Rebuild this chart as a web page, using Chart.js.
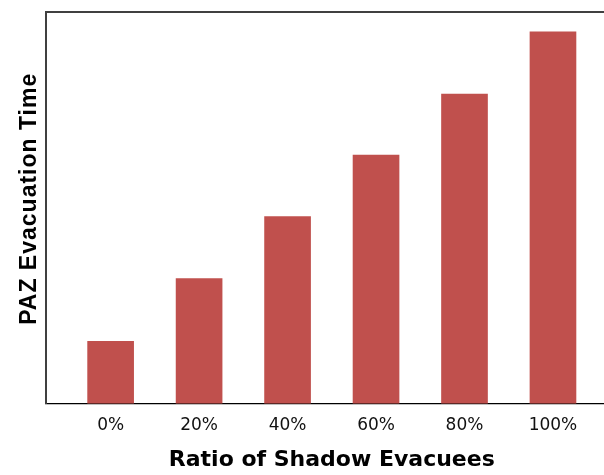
<!DOCTYPE html>
<html>
<head>
<meta charset="utf-8">
<script src="https://cdn.jsdelivr.net/npm/chart.js@4"></script>
<style>
  html, body { margin: 0; padding: 0; background: #fff; overflow: hidden; }
  #wrap { width: 640px; height: 475px; }
</style>
</head>
<body>
<div id="wrap"><canvas id="c" width="640" height="475"></canvas></div>
<script>
// Shadow-evacuee ratio categories and the resulting PAZ evacuation time
const categories = ['0%', '20%', '40%', '60%', '80%', '100%'];
const evacuationTime = [1.0, 2.01, 3.01, 4.0, 4.98, 5.98];
const xTitle = 'Ratio of Shadow Evacuees';
const yTitle = 'PAZ Evacuation Time';

const points = categories.map((c, i) => ({ x: i, y: evacuationTime[i] }));

// Give the vertical axis title a little tracking and lift it slightly
const yTitleStyle = {
  id: 'yTitleStyle',
  afterLayout(chart) {
    const s = chart.scales.y;
    if (s._styledTitle) return;
    const orig = s.drawTitle.bind(s);
    s.drawTitle = function () {
      const ctx = chart.ctx;
      ctx.save();
      ctx.letterSpacing = '1px';
      ctx.translate(0, -9);
      orig();
      ctx.restore();
    };
    s._styledTitle = true;
  }
};

new Chart(document.getElementById('c'), {
  type: 'bar',
  data: {
    datasets: [{
      data: points,
      backgroundColor: '#C0504D',
      borderWidth: 0,
      barThickness: 46
    }]
  },
  plugins: [yTitleStyle],
  options: {
    responsive: false,
    animation: false,
    layout: { padding: { left: 0, top: 12, right: 22, bottom: 4 } },
    plugins: { legend: { display: false }, tooltip: { enabled: false } },
    scales: {
      x: {
        type: 'linear',
        offset: false,
        min: -0.735,
        max: 5.735,
        grid: { display: false, drawTicks: false },
        border: { display: true, color: '#000', width: 1.2 },
        afterBuildTicks: (axis) => { axis.ticks = categories.map((c, i) => ({ value: i })); },
        ticks: {
          autoSkip: false,
          maxRotation: 0,
          padding: 12,
          color: '#111',
          font: { family: 'DejaVu Sans', size: 17 },
          callback: (v) => categories[v]
        },
        title: {
          display: true,
          text: xTitle,
          color: '#000',
          padding: { top: 1, bottom: 0 },
          font: { family: 'DejaVu Sans', size: 22, weight: 'bold', lineHeight: 1 }
        }
      },
      xTop: {
        type: 'linear',
        position: 'top',
        min: 0, max: 1,
        grid: { display: false, drawTicks: false },
        ticks: { display: false },
        border: { display: true, color: '#404040', width: 2 }
      },
      y: {
        min: 0,
        max: 6.3,
        grid: { display: false, drawTicks: false },
        ticks: { display: false },
        border: { display: true, color: '#404040', width: 2 },
        title: {
          display: true,
          text: yTitle,
          color: '#000',
          padding: { top: 16, bottom: 2 },
          font: { family: 'Liberation Sans', size: 23, weight: 'bold', lineHeight: 1.2 }
        }
      }
    }
  }
});
</script>
</body>
</html>
